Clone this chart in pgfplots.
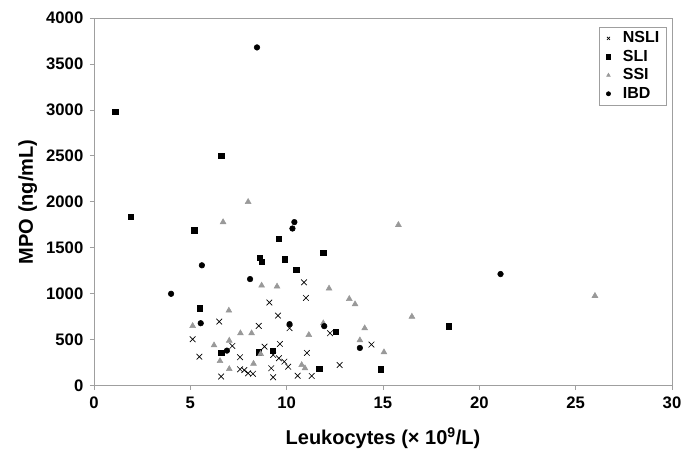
\documentclass[border=0pt]{standalone}
\usepackage{fontspec}
\setmainfont{Liberation Sans}
\usepackage{pgfplots}
\pgfplotsset{compat=1.18}

\begin{document}
\begin{tikzpicture}
\begin{axis}[
  name=ax,
  scale only axis,
  width=433.5pt, height=275.8pt,
  xmin=0, xmax=30, ymin=0, ymax=4000,
  xtick={0,5,...,30}, ytick={0,500,...,4000},
  tick pos=left, tick align=outside,
  major tick length=3pt,
  axis line style={gray!75, line width=0.6pt},
  tick style={gray!75, line width=0.6pt},
  /pgf/number format/assume math mode=true,
  /pgf/number format/1000 sep={},
  tick label style={font=\fontsize{12.5}{14}\selectfont\bfseries},
  xticklabel style={yshift=-2pt},
  yticklabel style={xshift=-1.5pt},
  label style={font=\fontsize{15}{17}\selectfont\bfseries},
  xlabel={Leukocytes (× 10\textsuperscript{9}/L)},
  ylabel={MPO (ng/mL)},
  xlabel style={yshift=-7pt},
  legend style={at={(0.99,0.976)}, anchor=north east, draw=gray!75,
    font=\fontsize{12}{13.3}\selectfont\bfseries, row sep=0pt,
    inner xsep=3pt, inner ysep=1.5pt, cells={anchor=west}},
  legend cell align=left,
  legend image code/.code={
    \path (0cm,0cm) (0.42cm,0cm);
    \draw[#1, mark size=1.6pt] plot coordinates {(0.12cm,0cm)};
  },
]
\addplot[only marks, mark=x, mark size=3pt, black, line width=0.5pt] coordinates {
(10.9,1125) (11.0,955) (9.1,905) (9.55,763) (8.55,651) (10.15,626) (6.5,698)
(12.25,571) (5.12,506) (14.4,448) (7.18,433) (8.85,425) (9.65,455) (11.05,357)
(9.3,335) (5.47,316) (7.58,310) (9.6,299) (9.88,262) (10.08,207) (12.75,226)
(9.2,190) (7.58,179) (7.8,170) (8.0,135) (8.25,130) (6.6,100) (9.3,92)
(10.57,109) (11.3,106)
};
\addlegendentry{NSLI}
\addplot[only marks, mark=square*, mark size=2pt, black] coordinates {
(1.1,2980) (6.6,2500) (1.9,1835) (5.2,1690) (9.6,1600) (11.9,1445) (8.6,1390)
(8.7,1350) (9.9,1375) (10.5,1260) (5.5,844) (18.4,648) (12.55,586) (6.6,360)
(8.55,365) (9.27,382) (11.7,186) (14.9,180)
};
\addlegendentry{SLI}
\addplot[only marks, mark=triangle*, mark size=2.5pt, draw=gray!80, fill=gray!80] coordinates {
(8.0,2000) (6.7,1780) (15.8,1750) (8.7,1090) (9.5,1080) (12.2,1058) (26.0,978)
(13.25,945) (13.55,887) (7.0,818) (16.5,752) (11.9,680) (5.12,651) (14.05,626)
(7.6,571) (8.18,571) (11.15,553) (7.02,491) (13.8,495) (6.23,440) (15.05,365)
(8.65,346) (6.54,269) (8.28,240) (10.78,226) (10.95,190) (7.02,182)
};
\addlegendentry{SSI}
\addplot[only marks, mark=*, mark size=2.1pt, black] coordinates {
(8.46,3680) (10.4,1780) (10.3,1710) (5.6,1310) (21.1,1215) (8.1,1160) (4.0,1000)
(10.15,670) (5.54,680) (11.95,648) (13.8,411) (6.9,382)
};
\addlegendentry{IBD}
\end{axis}
\pgfresetboundingbox
\path[use as bounding box] ([shift={(-70.5pt,-47.5pt)}]ax.south west)
  rectangle ([shift={(6.75pt,13.5pt)}]ax.north east);
\end{tikzpicture}
\end{document}
